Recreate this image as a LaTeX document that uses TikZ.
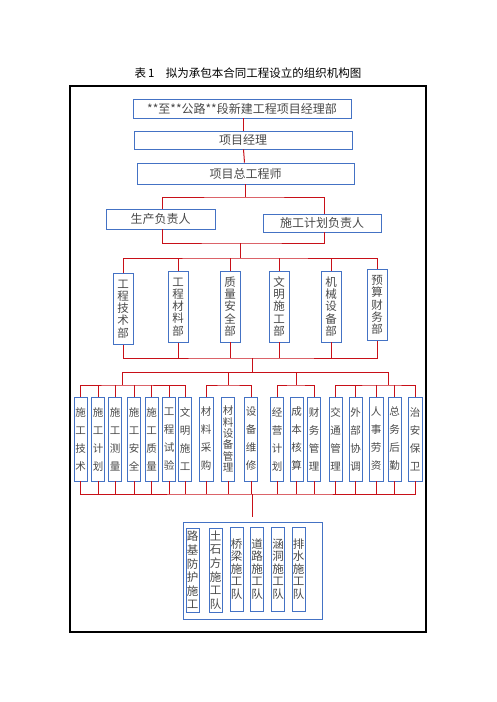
\documentclass[tikz,border=0pt]{standalone}
\usepackage{fontspec}
\newfontfamily\cjk{Noto Sans CJK SC}
\definecolor{bblue}{RGB}{68,114,196}
\definecolor{lred}{RGB}{200,16,24}
\definecolor{tgray}{RGB}{72,72,72}
\begin{document}
\begin{tikzpicture}[x=1pt,y=-1pt,
  box/.style={draw=bblue, line width=0.9pt, inner sep=0pt, text=tgray, font=\cjk\fontsize{12}{14}\selectfont},
  dbox/.style={box, align=center, minimum width=20, minimum height=71, font=\cjk\fontsize{11.5}{12.2}\selectfont},
  sbox/.style={box, align=center, minimum width=13, minimum height=84, font=\cjk\fontsize{10.5}{18}\selectfont},
  sboxt/.style={sbox, font=\cjk\fontsize{10.5}{11.4}\selectfont},
  tbox/.style={box, align=center, minimum width=13, minimum height=84, font=\cjk\fontsize{11.5}{13.6}\selectfont},
  tboxf/.style={tbox, font=\cjk\fontsize{11.5}{12.4}\selectfont},
  link/.style={draw=lred, line width=1pt}]
\useasboundingbox (0,0) rectangle (496,702);

\node[font=\cjk\fontsize{11.5}{13}\selectfont, text=black] (title) at (248,73) {表\,1\quad 拟为承包本合同工程设立的组织机构图};
\node[draw=black, line width=1.3pt, minimum width=356, minimum height=546, inner sep=0pt] (frame) at (248,359) {};

\node[box, minimum width=218, minimum height=19] (b1) at (242,108.5) {**至**公路**段新建工程项目经理部};
\node[box, minimum width=218, minimum height=18] (b2) at (243,140) {项目经理};
\node[box, minimum width=217, minimum height=21] (b3) at (245.5,173.5) {项目总工程师};
\node[box, minimum width=109, minimum height=20] (bL) at (160.5,219) {生产负责人};
\node[box, minimum width=118, minimum height=18] (bR) at (322,223) {施工计划负责人};

\draw[link] ([xshift=1.5pt]b1.south) -- ([xshift=0.5pt]b2.north);
\draw[link] ([xshift=0.5pt]b2.south) -- ([xshift=-1pt]b3.north);
\coordinate (j1) at (245,197);
\draw[link] (b3.south) -- (b3.south |- j1);
\draw[link] ([xshift=1.5pt]bL.north) |- (j1) -| ([xshift=2pt]bR.north);
\coordinate (j2) at (240,243);
\draw[link] ([xshift=1.5pt]bL.south) |- (j2) -| ([xshift=2pt]bR.south);
\coordinate (j3) at (240,258);
\draw[link] (j2) -- (j3);

\node[dbox] (d1) at (123,309) {工\\程\\技\\术\\部};
\node[dbox] (d2) at (178,307) {工\\程\\材\\料\\部};
\node[dbox] (d3) at (230,306.5) {质\\量\\安\\全\\部};
\node[dbox] (d4) at (279,306.5) {文\\明\\施\\工\\部};
\node[dbox] (d5) at (331,306.5) {机\\械\\设\\备\\部};
\node[dbox] (d6) at (377,305) {预\\算\\财\\务\\部};

\coordinate (j4) at (252,358);
\coordinate (j5) at (252,372);
\draw[link] (d1.north) |- (j3) -| (d6.north);
\draw[link] (d1.south) |- (j4) -| (d6.south);
\foreach \n in {d2,d3,d4,d5}{
  \draw[link] (\n.north) -- (\n.north |- j3);
  \draw[link] (\n.south) -- (\n.south |- j4);
}
\draw[link] (j4) -- (j5);

% small boxes
\node[sbox] (s1) at (80.5,439) {施\\工\\技\\术};
\node[sbox] (s2) at (98,439) {施\\工\\计\\划};
\node[sbox] (s3) at (115,439) {施\\工\\测\\量};
\node[sbox] (s4) at (134,439) {施\\工\\安\\全};
\node[sbox] (s5) at (151.5,439) {施\\工\\质\\量};
\node[sbox] (s6) at (169,439) {工\\程\\试\\验};
\node[sbox] (s7) at (185,439) {文\\明\\施\\工};
\node[sbox, minimum width=14] (s8) at (206,439) {材\\料\\采\\购};
\node[sboxt] (s9) at (228,439) {材\\料\\设\\备\\管\\理};
\node[sbox] (s10) at (251,439) {设\\备\\维\\修};
\node[sbox] (s11) at (277,439) {经\\营\\计\\划};
\node[sbox] (s12) at (296.5,439) {成\\本\\核\\算};
\node[sbox] (s13) at (314,439) {财\\务\\管\\理};
\node[sbox] (s14) at (335.5,439) {交\\通\\管\\理};
\node[sbox] (s15) at (355.5,439) {外\\部\\协\\调};
\node[sbox, minimum width=14] (s16) at (376,439) {人\\事\\劳\\资};
\node[sbox] (s17) at (394.5,439) {总\\务\\后\\勤};
\node[sbox, minimum width=14] (s18) at (415,439) {治\\安\\保\\卫};

\coordinate (g1) at (122,385);
\coordinate (g2) at (228,385);
\coordinate (g3) at (296,385);
\coordinate (g4) at (388,385);
\foreach \g in {g1,g2,g3,g4}{ \draw[link] (\g |- j5) -- (\g); }
\draw[link] (j5 -| g1) -- (j5 -| g4);
\draw[link] (s1.north) |- (g1) -| (s7.north);
\draw[link] (s8.north) |- (g2) -| (s10.north);
\draw[link] (s11.north) |- (g3) -| (s13.north);
\draw[link] (s14.north) |- (g4) -| (s18.north);
\foreach \n in {s2,s3,s4,s5,s6,s15,s16,s17}{ \draw[link] (\n.north) -- (\n.north |- g1); }

\coordinate (j6) at (252,494);
\draw[link] (s1.south) |- (j6) -| (s18.south);
\foreach \n in {s2,s3,s4,s5,s6,s7,s8,s9,s10,s11,s12,s13,s14,s15,s16,s17}{ \draw[link] (\n.south) -- (\n.south |- j6); }

% teams
\node[box, minimum width=139, minimum height=97] (team) at (252.5,570.5) {};
\draw[link] (j6) -- ([yshift=5pt]team.north -| j6);
\node[tbox] (t1) at (192.5,570) {路\\基\\防\\护\\施\\工};
\node[tbox] (t2) at (215.5,570) {土\\石\\方\\施\\工\\队};
\node[tboxf] (t3) at (236.5,569) {桥\\梁\\施\\工\\队};
\node[tboxf] (t4) at (257,569) {道\\路\\施\\工\\队};
\node[tboxf] (t5) at (278,569) {涵\\洞\\施\\工\\队};
\node[tboxf] (t6) at (298.5,569) {排\\水\\施\\工\\队};
\end{tikzpicture}
\end{document}
